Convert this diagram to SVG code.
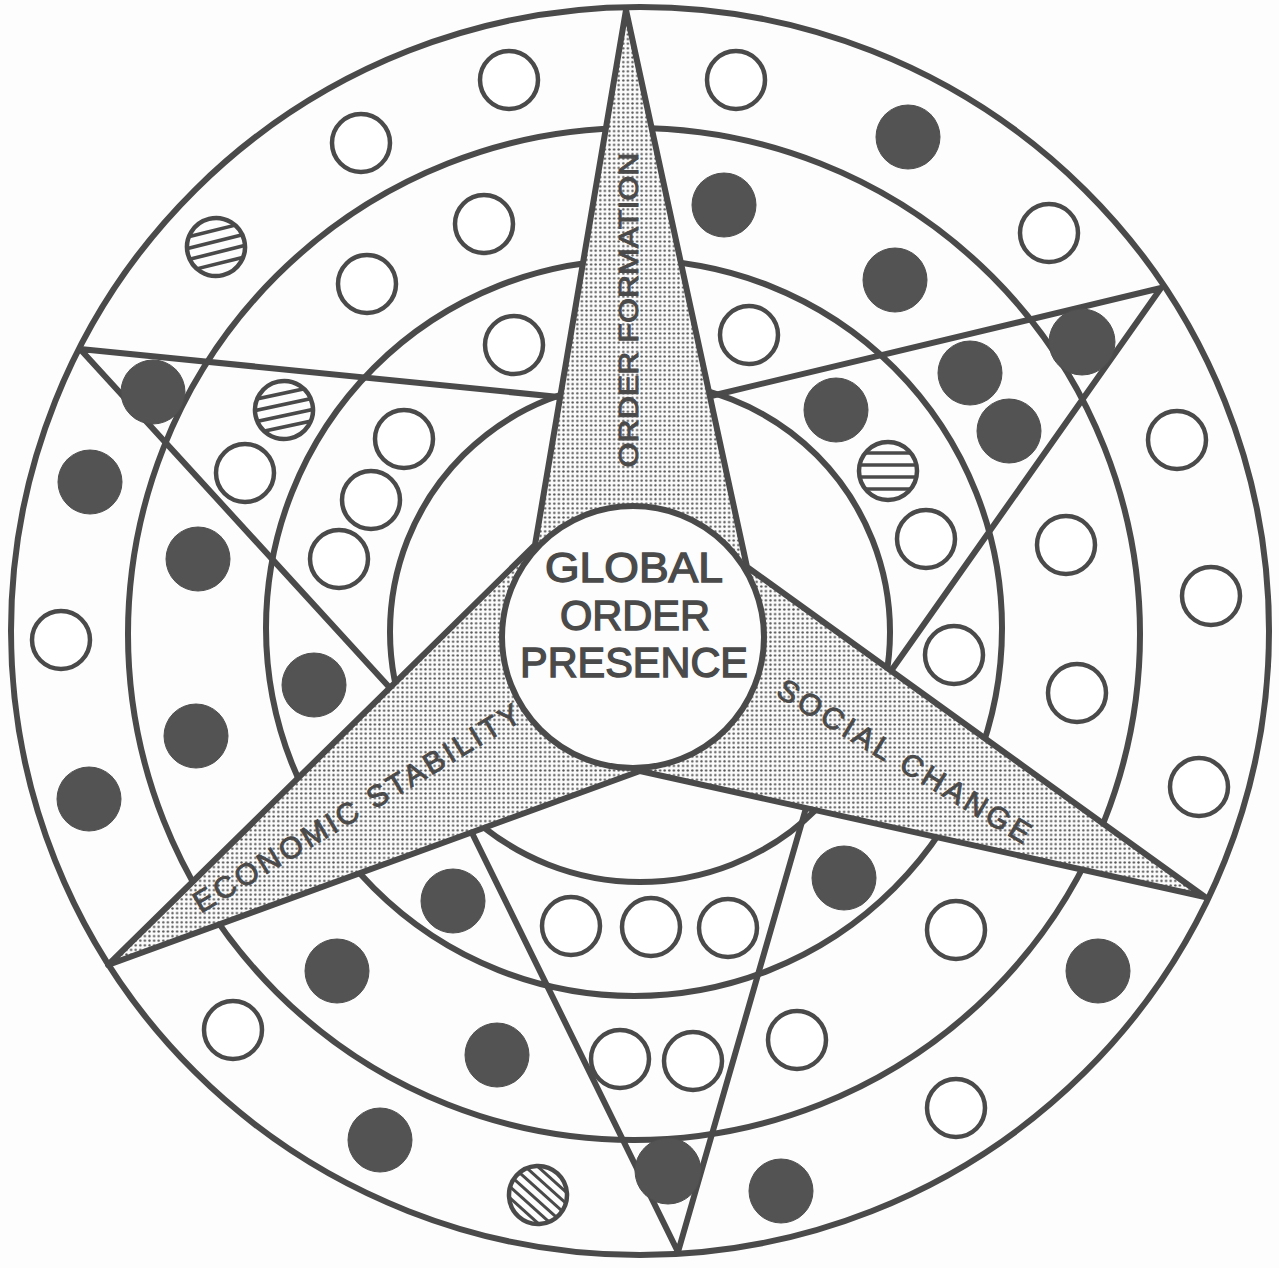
<svg xmlns="http://www.w3.org/2000/svg" width="1279" height="1268" viewBox="0 0 1279 1268">
<style>
.ln{fill:none;stroke:#4a4a4a;stroke-width:6;stroke-linejoin:round;stroke-linecap:round}
.op{fill:#fff;stroke:#4a4a4a;stroke-width:4.5}
.fl{fill:#535353;stroke:#4f4f4f;stroke-width:1}
.ht{stroke:#4a4a4a;stroke-width:3.6}
.lb{font-family:"Liberation Sans",Arial,Helvetica,sans-serif;fill:#4a4a4a;stroke:#4a4a4a;stroke-width:0.9}
.lc{font-family:"Liberation Sans",Arial,Helvetica,sans-serif;fill:#4a4a4a;stroke:#4a4a4a;stroke-width:1.4}
</style>
<defs>
<pattern id="stip" width="4.6" height="4.6" patternUnits="userSpaceOnUse">
<rect width="4.6" height="4.6" fill="#fbfbfb"/>
<circle cx="2.3" cy="2.3" r="1.2" fill="#555"/>
</pattern>
<clipPath id="hc"><circle cx="0" cy="0" r="28"/></clipPath>
</defs>
<rect width="1279" height="1268" fill="#fdfdfd"/>

<g id="rings">
<ellipse id="ring-outer" class="ln" cx="640" cy="631" rx="629" ry="624" stroke-width="6.5"/>
<circle id="ring-2" class="ln" cx="634" cy="634" r="506"/>
<circle id="ring-3" class="ln" cx="634" cy="628" r="368"/>
<circle id="ring-4" class="ln" cx="640" cy="632" r="250"/>
</g>

<g id="connectors">
<polyline id="point-upper-left" class="ln" points="559,397 80,349 390,688"/>
<polyline id="point-upper-right" class="ln" points="711,396 1161,288 891,671"/>
<polyline id="point-bottom" class="ln" points="472,833 678,1252 806,808"/>
</g>

<g id="star-arms">
<polygon class="ln" style="fill:url(#stip)" points="626,10 747,567 1205,897 640,771 108,965 535,545"/>
</g>

<g id="center-node">
<circle cx="633" cy="637" r="131" fill="#fdfdfd" stroke="#4a4a4a" stroke-width="6"/>
<text class="lc" font-size="42" text-anchor="middle" x="634" y="582" textLength="178" lengthAdjust="spacingAndGlyphs">GLOBAL</text>
<text class="lc" font-size="42" text-anchor="middle" x="635" y="630" textLength="150" lengthAdjust="spacingAndGlyphs">ORDER</text>
<text class="lc" font-size="42" text-anchor="middle" x="634" y="677" textLength="228" lengthAdjust="spacingAndGlyphs">PRESENCE</text>
</g>

<g id="arm-labels">
<text id="lbl-order" class="lb" font-size="28" text-anchor="middle" transform="translate(638,310) rotate(-90)" textLength="315" lengthAdjust="spacingAndGlyphs">ORDER FORMATION</text>
<text id="lbl-econ" class="lb" font-size="30" text-anchor="middle" transform="translate(362,817) rotate(-31)" textLength="376" lengthAdjust="spacing">ECONOMIC STABILITY</text>
<text id="lbl-social" class="lb" font-size="30" text-anchor="middle" transform="translate(899,770) rotate(31)" textLength="290" lengthAdjust="spacing">SOCIAL CHANGE</text>
</g>

<g id="dots">
<circle id="d1" class="op" cx="509" cy="80" r="29"/>
<circle id="d2" class="op" cx="736" cy="80" r="29"/>
<circle id="d3" class="fl" cx="908" cy="137" r="32"/>
<circle id="d4" class="op" cx="1049" cy="233" r="29"/>
<circle id="d5" class="op" cx="1177" cy="440" r="29"/>
<circle id="d6" class="op" cx="1211" cy="596" r="29"/>
<circle id="d7" class="op" cx="1199" cy="787" r="29"/>
<circle id="d8" class="fl" cx="1098" cy="971" r="32"/>
<circle id="d9" class="op" cx="956" cy="1108" r="29"/>
<circle id="d10" class="fl" cx="781" cy="1191" r="32"/>
<circle id="d11" class="fl" cx="668" cy="1171" r="33"/>
<circle id="d13" class="fl" cx="380" cy="1140" r="32"/>
<circle id="d14" class="op" cx="233" cy="1030" r="29"/>
<circle id="d15" class="fl" cx="89" cy="799" r="32"/>
<circle id="d16" class="op" cx="61" cy="640" r="29"/>
<circle id="d17" class="fl" cx="90" cy="482" r="32"/>
<circle id="d18" class="fl" cx="153" cy="392" r="32"/>
<circle id="d20" class="op" cx="361" cy="143" r="29"/>
<circle id="d21" class="fl" cx="1082" cy="342" r="33"/>

<circle id="d22" class="op" cx="484" cy="224" r="29"/>
<circle id="d23" class="op" cx="367" cy="284" r="29"/>
<circle id="d24" class="fl" cx="724" cy="205" r="32"/>
<circle id="d25" class="fl" cx="895" cy="280" r="32"/>
<circle id="d26" class="fl" cx="1009" cy="431" r="32"/>
<circle id="d27" class="fl" cx="970" cy="373" r="32"/>
<circle id="d28" class="op" cx="1066" cy="545" r="29"/>
<circle id="d29" class="op" cx="1077" cy="693" r="29"/>
<circle id="d30" class="op" cx="956" cy="930" r="29"/>
<circle id="d31" class="op" cx="797" cy="1040" r="29"/>
<circle id="d32" class="op" cx="693" cy="1061" r="29"/>
<circle id="d33" class="op" cx="620" cy="1059" r="29"/>
<circle id="d34" class="fl" cx="497" cy="1055" r="32"/>
<circle id="d35" class="fl" cx="337" cy="971" r="32"/>
<circle id="d36" class="fl" cx="196" cy="736" r="32"/>
<circle id="d37" class="fl" cx="198" cy="559" r="32"/>
<circle id="d39" class="op" cx="245" cy="473" r="29"/>

<circle id="d40" class="op" cx="514" cy="345" r="29"/>
<circle id="d41" class="op" cx="404" cy="439" r="29"/>
<circle id="d42" class="op" cx="371" cy="500" r="29"/>
<circle id="d43" class="op" cx="339" cy="559" r="29"/>
<circle id="d44" class="fl" cx="314" cy="685" r="32"/>
<circle id="d45" class="fl" cx="453" cy="901" r="32"/>
<circle id="d46" class="op" cx="749" cy="335" r="29"/>
<circle id="d47" class="fl" cx="836" cy="410" r="32"/>
<circle id="d49" class="op" cx="926" cy="539" r="29"/>
<circle id="d50" class="op" cx="954" cy="655" r="29"/>
<circle id="d51" class="fl" cx="844" cy="878" r="32"/>
<circle id="d52" class="op" cx="571" cy="926" r="29"/>
<circle id="d53" class="op" cx="651" cy="927" r="29"/>
<circle id="d54" class="op" cx="728" cy="928" r="29"/>

<g id="d19" transform="translate(216,247) rotate(-14)">
<g clip-path="url(#hc)" class="ht"><line x1="-40" y1="-16.5" x2="40" y2="-16.5"/><line x1="-40" y1="-5.5" x2="40" y2="-5.5"/><line x1="-40" y1="5.5" x2="40" y2="5.5"/><line x1="-40" y1="16.5" x2="40" y2="16.5"/></g>
<circle class="op" style="fill:none" r="29"/>
</g>
<g id="d38" transform="translate(284,410) rotate(-12)">
<g clip-path="url(#hc)" class="ht"><line x1="-40" y1="-16.5" x2="40" y2="-16.5"/><line x1="-40" y1="-5.5" x2="40" y2="-5.5"/><line x1="-40" y1="5.5" x2="40" y2="5.5"/><line x1="-40" y1="16.5" x2="40" y2="16.5"/></g>
<circle class="op" style="fill:none" r="29"/>
</g>
<g id="d48" transform="translate(888,471)">
<g clip-path="url(#hc)" class="ht"><line x1="-40" y1="-18" x2="40" y2="-18"/><line x1="-40" y1="-6" x2="40" y2="-6"/><line x1="-40" y1="6" x2="40" y2="6"/><line x1="-40" y1="18" x2="40" y2="18"/></g>
<circle class="op" style="fill:none" r="29"/>
</g>
<g id="d12" transform="translate(538,1195) rotate(42)">
<g clip-path="url(#hc)" class="ht" style="stroke-width:3"><line x1="-40" y1="-21" x2="40" y2="-21"/><line x1="-40" y1="-12.6" x2="40" y2="-12.6"/><line x1="-40" y1="-4.2" x2="40" y2="-4.2"/><line x1="-40" y1="4.2" x2="40" y2="4.2"/><line x1="-40" y1="12.6" x2="40" y2="12.6"/><line x1="-40" y1="21" x2="40" y2="21"/></g>
<circle class="op" style="fill:none" r="29"/>
</g>
</g>
</svg>
